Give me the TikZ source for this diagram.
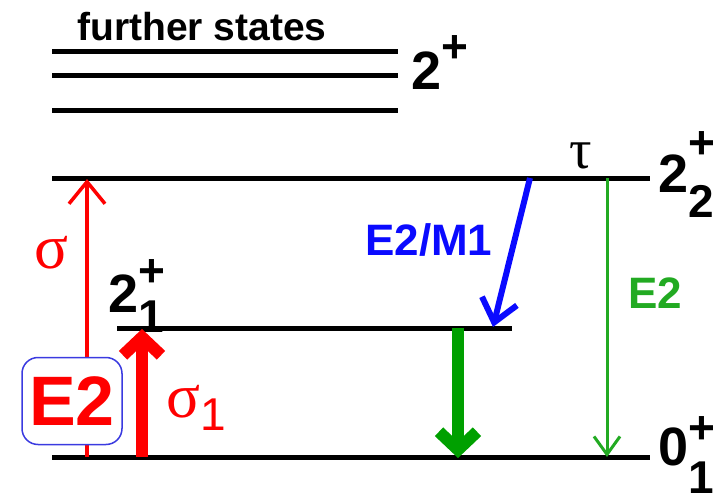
\documentclass[tikz,border=0pt]{standalone}
\usepackage{fontspec}
\setmainfont{Liberation Sans}
\newfontfamily\greekfont{Liberation Serif}
\usetikzlibrary{arrows.meta}
\definecolor{ink}{HTML}{000000}
\definecolor{sigred}{HTML}{FF0000}
\definecolor{mixblue}{HTML}{0A0AFF}
\definecolor{boxblue}{HTML}{3A3AE0}
\definecolor{dkgreen}{HTML}{00A000}
\definecolor{ltgreen}{HTML}{22AA22}
\newcommand{\setfs}[1]{\fontsize{#1}{#1}\selectfont}
% level label: main digit, subscript, lowering of subscript, raise of the plus
\newcommand{\lvl}[4]{{\setfs{54}\bfseries #1}{\setfs{46}\bfseries\rlap{\raisebox{#4pt}{+}}\raisebox{-#3pt}{#2}}}

\begin{document}
\begin{tikzpicture}[x=1pt,y=-1pt,
  level/.style={draw=ink,line width=5pt},
  lbl/.style={inner sep=0pt,anchor=base west},
  slimarr/.style={line width=3.5pt,-{Straight Barb[length=22pt,width=36pt]}},
  fatarr/.style={line width=12pt,-{Straight Barb[length=18pt,width=38pt]}}]
  \useasboundingbox (0,0) rectangle (724,503);
  % levels
  \draw[level] (52,52) -- (398,52);
  \draw[level] (52,76) -- (398,76);
  \draw[level] (52,111) -- (398,111);
  \draw[level] (52,178) -- (650,178);
  \draw[level] (117,328) -- (512,328);
  \draw[level] (52,457) -- (650,457);
  \node[lbl,font=\setfs{39}\bfseries] (further) at (77,41) {further states};
  \node[lbl] (lvtop) at (411,90) {\lvl{2}{}{0}{28}};
  \node[lbl] (lv22) at (658,193) {\lvl{2}{2}{25}{34}};
  \node[lbl] (lv21) at (108,312) {\lvl{2}{1}{20}{26}};
  \node[lbl] (lv01) at (658,465) {\lvl{0}{1}{28}{22}};
  % arrow ends
  \coordinate (sig0) at (87,457);  \coordinate (sig2) at (87,179);
  \coordinate (sg0) at (142,457);  \coordinate (sg1) at (142,329);
  \coordinate (mx2) at (530,178);  \coordinate (mx1) at (493,327);
  \coordinate (gd1) at (458,328);  \coordinate (gd0) at (458,458);
  \coordinate (gt2) at (607,178);  \coordinate (gt0) at (607,457);
  % excitation
  \draw[slimarr,sigred] (sig0) -- (sig2);
  \node[lbl,text=sigred,font=\setfs{63}\greekfont] (sig) at (34,268) {σ};
  \node[draw=boxblue,line width=1.5pt,fill=white,rounded corners=16pt,
        minimum width=100pt,minimum height=87pt,inner sep=0pt,
        text=sigred,font=\setfs{70}\bfseries] (e2box) at (72,401) {E2};
  \draw[fatarr,sigred] (sg0) -- (sg1);
  \node[lbl,text=sigred] (sig1) at (166,417) {{\setfs{63}\greekfont σ}{\setfs{46}\raisebox{-13pt}{1}}};
  % decays
  \draw[mixblue,line width=6pt,-{Straight Barb[length=22pt,width=36pt]}] (mx2) -- (mx1);
  \node[lbl,text=mixblue,font=\setfs{44}\bfseries] (mix) at (365,255) {E2/M1};
  \node[lbl,font=\setfs{56}\greekfont] (tau) at (569,168) {τ};
  \draw[fatarr,dkgreen] (gd1) -- (gd0);
  \draw[slimarr,ltgreen,line width=3pt,-{Straight Barb[length=18pt,width=26pt]}] (gt2) -- (gt0);
  \node[lbl,text=ltgreen,font=\setfs{44}\bfseries] (gE2) at (628,308) {E2};
\end{tikzpicture}
\end{document}
